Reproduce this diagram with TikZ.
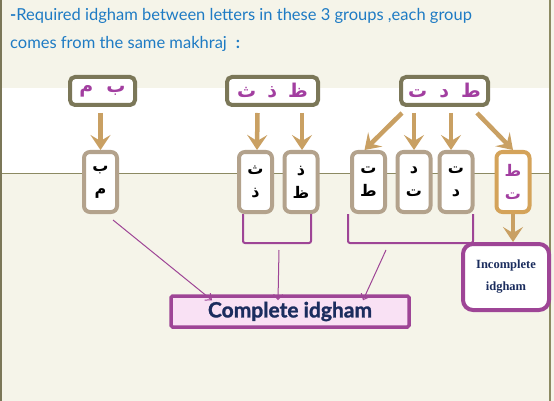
\documentclass[tikz,border=0pt]{standalone}
\usepackage{fontspec}
\setmainfont{Lato}
\newfontfamily\heavyfont[BoldFeatures={FakeBold=1.3}]{Lato}
\newfontfamily\arfont[Script=Arabic]{DejaVu Sans}
\newfontfamily\serfont{Liberation Serif}
\TeXXeTstate=1
\usetikzlibrary{arrows.meta}
\definecolor{cream}{HTML}{F5F4E9}
\definecolor{olivec}{HTML}{7B7758}
\definecolor{linec}{HTML}{8C8A62}
\definecolor{taupe}{HTML}{B3A28C}
\definecolor{goldc}{HTML}{C9A063}
\definecolor{goldbox}{HTML}{D4A35A}
\definecolor{magc}{HTML}{A23EA0}
\definecolor{purp}{HTML}{9E4596}
\definecolor{navy}{HTML}{1B2D5E}
\definecolor{bluet}{HTML}{1E7BC4}
\definecolor{pinkf}{HTML}{F9E1F4}
\tikzset{
  topbox/.style={draw=olivec, line width=4pt, fill=white, rounded corners=5pt,
    minimum height=28pt, inner sep=0pt, text=magc,
    font=\arfont\bfseries\fontsize{19}{20}\selectfont},
  letbox/.style={draw=taupe, line width=4pt, fill=white, rounded corners=6pt,
    minimum width=33pt, minimum height=60pt, inner sep=0pt, align=center,
    font=\arfont\bfseries\fontsize{16}{23}\selectfont},
  goldarr/.style={draw=goldc, line width=4.5pt,
    -{Stealth[length=15pt,width=20pt,inset=6pt]}},
  thinarr/.style={draw=purp, line width=1pt, -{Straight Barb[length=5pt,width=9pt]}},
  bracket/.style={draw=purp, line width=2pt, rounded corners=2pt},
}
\begin{document}
\begin{tikzpicture}[x=1pt,y=-1pt]
\fill[cream] (0,0) rectangle (554,401);
\useasboundingbox (0,0) rectangle (554,401);
\fill[white] (2,88) rectangle (549,173);
\draw[linec, line width=1pt] (0,173) -- (549,173);
\draw[olivec, line width=2pt] (1,0) -- (1,401);
\draw[linec, line width=1.2pt] (550,0) -- (550,401);

% heading
\node[anchor=base west, text=bluet, font=\fontsize{16.5}{19}\selectfont, inner sep=0pt] (h1) at (10,21)
  {\textbf{-}Required idgham between letters in these 3 groups ,each group};
\node[anchor=base west, text=bluet, font=\fontsize{16.5}{19}\selectfont, inner sep=0pt] (h2) at (10,49)
  {comes from the same makhraj\hspace{9pt}\textbf{:}};

% top group boxes
\node[topbox, minimum width=65pt] (g1) at (102.5,91) {\beginR ب\hspace{13pt}م\endR};
\node[topbox, minimum width=91pt] (g2) at (272.5,91) {\beginR ظ\hspace{11pt}ذ\hspace{11pt}ث\endR};
\node[topbox, minimum width=87pt] (g3) at (444.5,91) {\beginR ط\hspace{12pt}د\hspace{12pt}ت\endR};

% letter boxes
\node[letbox] (b1) at (100.5,182) {ب\\م};
\node[letbox] (b2) at (255.5,182) {ث\\ذ};
\node[letbox] (b3) at (301,182) {ذ\\ظ};
\node[letbox] (b4) at (368.5,182) {ت\\ط};
\node[letbox] (b5) at (414,182) {د\\ت};
\node[letbox] (b6) at (456,182) {ت\\د};
\node[letbox, draw=goldbox, text=magc] (b7) at (513,182) {ط\\ت};

% result boxes
\node[draw=purp, line width=3.5pt, fill=pinkf, rounded corners=1.5pt,
  minimum width=238pt, minimum height=31pt, inner sep=0pt, text=navy,
  font=\heavyfont\bfseries\fontsize{21}{24}\selectfont] (comp) at (290,311.5) {Complete idgham};
\node[draw=purp, line width=4pt, fill=white, rounded corners=10pt,
  minimum width=86pt, minimum height=66pt, inner sep=0pt, text=navy, align=center,
  font=\serfont\bfseries\fontsize{12.5}{22}\selectfont] (inc) at (506,277) {Incomplete\\idgham};

% gold arrows
\draw[goldarr] ([yshift=-6pt]g1.south -| b1.north) -- (b1.north);
\draw[goldarr] ([xshift=-15pt,yshift=-6pt]g2.south) -- ([xshift=1.5pt]b2.north);
\draw[goldarr] ([xshift=29.5pt,yshift=-6pt]g2.south) -- ([xshift=1pt]b3.north);
\draw[goldarr] ([xshift=-42.5pt,yshift=-6pt]g3.south) -- ([xshift=-4pt]b4.north);
\draw[goldarr] ([xshift=-30.5pt,yshift=-6pt]g3.south) -- (b5.north);
\draw[goldarr] ([xshift=6.5pt,yshift=-6pt]g3.south) -- ([xshift=-5pt]b6.north);
\draw[goldarr] ([xshift=32.5pt,yshift=-6pt]g3.south) -- (b7.north);
\draw[goldarr] (b7.south) -- (b7.south |- inc.north);

% brackets
\draw[bracket] ([xshift=-12.5pt]b2.south) -- ++(0,29) -| ([xshift=10pt]b3.south);
\draw[bracket] ([xshift=-20.5pt]b4.south) -- ++(0,29) -| ([xshift=17pt]b6.south);

% thin arrows
\coordinate (s1) at (113,220);
\coordinate (s2) at (279,250);
\coordinate (s3) at (386,250);
\draw[thinarr] (s1) -- ([xshift=-78pt,yshift=-6pt]comp.north);
\draw[thinarr] (s2) -- ([xshift=-12pt,yshift=-6pt]comp.north);
\draw[thinarr] (s3) -- ([xshift=73pt,yshift=-6pt]comp.north);
\end{tikzpicture}
\end{document}
